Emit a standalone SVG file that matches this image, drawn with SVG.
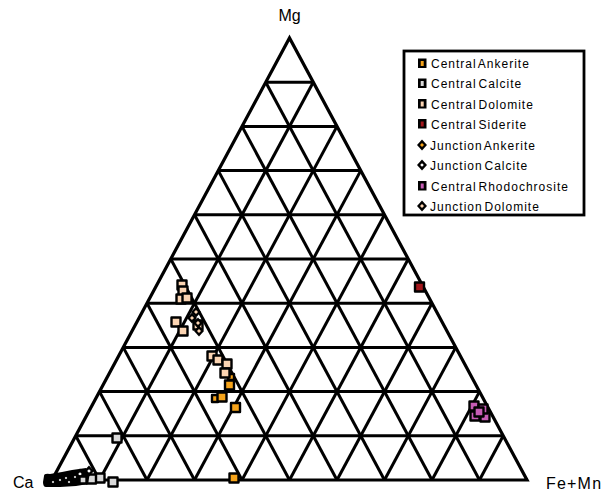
<svg xmlns="http://www.w3.org/2000/svg" xmlns:xlink="http://www.w3.org/1999/xlink" width="603" height="495" viewBox="0 0 603 495">
<style>
.grid line{stroke:#000;stroke-width:3}
.tri{fill:none;stroke:#000;stroke-width:3.2;stroke-linejoin:miter}
.lbl{font-family:"Liberation Sans",Arial,sans-serif;fill:#000}
.axis{font-size:16px}
.leg{font-size:12px;letter-spacing:1px;word-spacing:-2.5px}
.sq{stroke:#000;stroke-width:2.4;stroke-linejoin:round}
.ank{fill:#F5A31A}
.cal{fill:#D9D9D9}
.dol{fill:#FBD4B2}
.sid{fill:#A3161B}
.rho{fill:#C65CB5}
</style>
<defs>
<g id="dJC"><path d="M0,-5.5 L5,0 L0,5.5 L-5,0Z" fill="#000"/><rect x="-1.3" y="-1.3" width="2.6" height="2.6" fill="#fff" transform="rotate(45)"/></g>
<g id="dJD"><path d="M0,-5.5 L5,0 L0,5.5 L-5,0Z" fill="#000"/><rect x="-1.4" y="-1.4" width="2.8" height="2.8" fill="#FBD4B2" transform="rotate(45)"/></g>
<g id="dJA"><path d="M0,-5.5 L5,0 L0,5.5 L-5,0Z" fill="#000"/><rect x="-1.4" y="-1.4" width="2.8" height="2.8" fill="#F5A31A" transform="rotate(45)"/></g>
<g id="dS"><path d="M0,-4 L3.5,0 L0,4 L-3.5,0Z" fill="#000"/><rect x="-0.9" y="-0.9" width="1.8" height="1.8" fill="#fff" transform="rotate(45)"/></g>
</defs>
<rect width="603" height="495" fill="#fff"/>
<g id="grid" class="grid">
<line x1="265.75" y1="82.2" x2="313.25" y2="82.2"/>
<line x1="242" y1="126.4" x2="337" y2="126.4"/>
<line x1="218.25" y1="170.6" x2="360.75" y2="170.6"/>
<line x1="194.5" y1="214.8" x2="384.5" y2="214.8"/>
<line x1="170.75" y1="259" x2="408.25" y2="259"/>
<line x1="147" y1="303.2" x2="432" y2="303.2"/>
<line x1="123.25" y1="347.4" x2="455.75" y2="347.4"/>
<line x1="99.5" y1="391.6" x2="479.5" y2="391.6"/>
<line x1="75.75" y1="435.8" x2="503.25" y2="435.8"/>
<line x1="99.5" y1="480" x2="313.25" y2="82.2"/>
<line x1="147" y1="480" x2="337" y2="126.4"/>
<line x1="194.5" y1="480" x2="360.75" y2="170.6"/>
<line x1="242" y1="480" x2="384.5" y2="214.8"/>
<line x1="289.5" y1="480" x2="408.25" y2="259"/>
<line x1="337" y1="480" x2="432" y2="303.2"/>
<line x1="384.5" y1="480" x2="455.75" y2="347.4"/>
<line x1="432" y1="480" x2="479.5" y2="391.6"/>
<line x1="479.5" y1="480" x2="503.25" y2="435.8"/>
<line x1="99.5" y1="480" x2="75.75" y2="435.8"/>
<line x1="147" y1="480" x2="99.5" y2="391.6"/>
<line x1="194.5" y1="480" x2="123.25" y2="347.4"/>
<line x1="242" y1="480" x2="147" y2="303.2"/>
<line x1="289.5" y1="480" x2="170.75" y2="259"/>
<line x1="337" y1="480" x2="194.5" y2="214.8"/>
<line x1="384.5" y1="480" x2="218.25" y2="170.6"/>
<line x1="432" y1="480" x2="242" y2="126.4"/>
<line x1="479.5" y1="480" x2="265.75" y2="82.2"/>
</g>
<polygon id="triangle" class="tri" points="52,480 527,480 289.5,38"/>
<g id="axis-labels" class="lbl axis">
<text x="289.5" y="21" text-anchor="middle">Mg</text>
<text x="13" y="488">Ca</text>
<text x="546" y="489" letter-spacing="1.2">Fe+Mn</text>
</g>
<g id="central-dolomite">
<rect class="sq dol" x="177.5" y="280.5" width="9" height="9"/>
<rect class="sq dol" x="178.5" y="286.5" width="9" height="9"/>
<rect class="sq dol" x="176.5" y="294.5" width="9" height="9"/>
<rect class="sq dol" x="182.5" y="293.5" width="9" height="9"/>
<rect class="sq dol" x="171.5" y="317.5" width="9" height="9"/>
<rect class="sq dol" x="178.5" y="326.5" width="9" height="9"/>
</g>
<g id="junction-dolomite">
<use xlink:href="#dJD" x="196" y="312"/>
<use xlink:href="#dJD" x="192" y="318"/>
<rect class="sq dol" x="193.5" y="320.5" width="9" height="9"/>
<use xlink:href="#dJD" x="199" y="331"/>
<use xlink:href="#dJD" x="198" y="323"/>
</g>
<g id="central-ankerite">
<rect class="sq ank" x="228" y="374" width="6" height="6"/>
<rect class="sq ank" x="225" y="380.5" width="9" height="9"/>
<rect class="sq ank" x="212" y="395" width="6" height="7"/>
<rect class="sq ank" x="217.5" y="392.5" width="9" height="9"/>
<rect class="sq ank" x="231" y="403" width="9" height="9"/>
<rect class="sq ank" x="229.5" y="473.5" width="9" height="9"/>
</g>
<g id="central-dolomite-2">
<rect class="sq dol" x="207.5" y="351.5" width="9" height="9"/>
<rect class="sq dol" x="213.5" y="355.5" width="9" height="9"/>
<rect class="sq dol" x="222.5" y="359.5" width="9" height="9"/>
<rect class="sq dol" x="220.5" y="368.5" width="9" height="9"/>
</g>
<g id="central-siderite">
<rect class="sq sid" x="415" y="282.5" width="9" height="9"/>
</g>
<g id="central-rhodochrosite">
<rect class="sq rho" x="469.5" y="401.5" width="9" height="9"/>
<rect class="sq rho" x="480.5" y="412.5" width="9" height="9"/>
<rect class="sq rho" x="470.5" y="411.5" width="9" height="9"/>
<rect class="sq rho" x="478.5" y="404.5" width="9" height="9"/>
<rect class="sq rho" x="474.5" y="407.5" width="9" height="9"/>
</g>
<g id="central-calcite">
<rect class="sq cal" x="112.5" y="433.5" width="9" height="9"/>
<rect class="sq cal" x="108.5" y="477.5" width="9" height="9"/>
<rect class="sq cal" x="95.5" y="473.5" width="9" height="9"/>
<rect class="sq cal" x="87" y="474.5" width="9" height="9"/>
</g>
<g id="junction-calcite">
<path d="M44,476 Q44,473 50,474 L62,472 L72,470 L86,468 L90,472 L88,484 L76,486 L60,487 L46,487 Q43,487 43,482Z" fill="#000"/>
<use xlink:href="#dS" x="53" y="482"/>
<use xlink:href="#dS" x="60" y="480"/>
<use xlink:href="#dS" x="66" y="478"/>
<use xlink:href="#dS" x="69" y="482"/>
<use xlink:href="#dS" x="75" y="477"/>
<use xlink:href="#dJC" x="80" y="474"/>
<use xlink:href="#dJC" x="89" y="471"/>
<rect class="sq cal" x="79.5" y="476.5" width="7" height="7"/>
</g>
<g id="legend">
<rect x="404" y="51" width="180" height="164" fill="#fff" stroke="#000" stroke-width="2.8"/>
<g id="leg-central-ankerite"><rect x="418" y="58.5" width="8.5" height="9.5" fill="#000"/><rect x="420.7" y="61" width="3" height="5" class="ank"/><text class="lbl leg" x="431" y="67.5">Central Ankerite</text></g>
<g id="leg-central-calcite"><rect x="418" y="78.5" width="8.5" height="9.5" fill="#000"/><rect x="420.7" y="81" width="3" height="5" class="cal"/><text class="lbl leg" x="431" y="88">Central Calcite</text></g>
<g id="leg-central-dolomite"><rect x="418" y="99" width="8.5" height="9.5" fill="#000"/><rect x="420.7" y="101.5" width="3" height="5" class="dol"/><text class="lbl leg" x="431" y="108.5">Central Dolomite</text></g>
<g id="leg-central-siderite"><rect x="418" y="119" width="8.5" height="9.5" fill="#000"/><rect x="420.7" y="121.5" width="3" height="5" class="sid"/><text class="lbl leg" x="431" y="128.5">Central Siderite</text></g>
<g id="leg-junction-ankerite"><use xlink:href="#dJA" x="422" y="145"/><text class="lbl leg" x="430" y="149.5">Junction Ankerite</text></g>
<g id="leg-junction-calcite"><use xlink:href="#dJC" x="422" y="165"/><text class="lbl leg" x="430" y="169.5">Junction Calcite</text></g>
<g id="leg-central-rhodochrosite"><rect x="418" y="181" width="8.5" height="9.5" fill="#000"/><rect x="420.7" y="183.5" width="3" height="5" class="rho"/><text class="lbl leg" x="431" y="190.5">Central Rhodochrosite</text></g>
<g id="leg-junction-dolomite"><use xlink:href="#dJD" x="422" y="206"/><text class="lbl leg" x="430" y="210.5">Junction Dolomite</text></g>
</g>
</svg>
